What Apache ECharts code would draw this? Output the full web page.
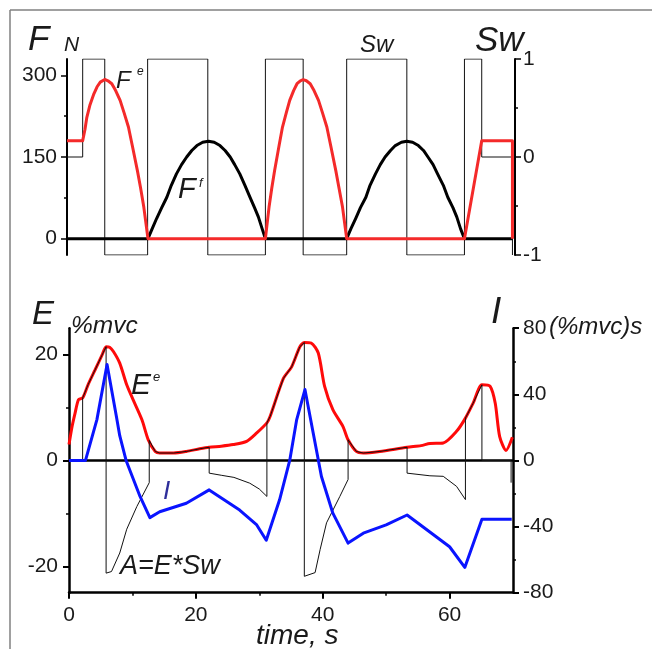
<!DOCTYPE html>
<html><head><meta charset="utf-8">
<script src="https://cdn.jsdelivr.net/npm/echarts@6/dist/echarts.min.js"></script>
<style>html,body{margin:0;padding:0;background:#fff}#c{width:652px;height:649px}</style>
</head><body><div id="c"></div>
<script>
// ---- data (time in s) ----
const forceTicks = [0, 150, 300];
const forceMinorTicks = [75, 225];
const swTicks = [-1, 0, 1];
const emgTicks = [-20, 0, 20];
const emgMinorTicks = [-10, 10];
const timeTicks = [0, 20, 40, 60];
const timeMinorTicks = [10, 30, 50];

// Sw switching signal: [time when new state starts, state]
const swState = [[0,0],[2.45,1],[5.9,-1],[12.6,1],[22,-1],[31,1],[36.9,-1],[43.7,1],[53.1,-1],[62.1,1],[64.8,0],[69.6,-1]];

// Extensor force F^e, N
const feForce = [[0,180],[2.45,180],[2.8,200],[3.1,223],[3.6,246],[4.2,266],[4.7,279],[5.2,287.5],[5.5,291],[5.9,292.5],[6.4,290],[7.0,284.6],[7.6,272],[8.3,254],[8.9,232],[9.6,205],[10.2,171],[11.0,125],[11.5,93],[12.0,58],[12.65,0],
  [31,0],[31.57,58],[32.0,93],[32.44,125],[33.14,171],[33.67,205],[34.28,232],[34.8,254],[35.41,272],[35.94,284.6],[36.46,290],[36.9,292],
  [37.4,290],[38.0,284.6],[38.6,272],[39.3,254],[39.9,232],[40.6,205],[41.2,171],[42.0,125],[42.5,93],[43.05,58],[43.7,0],
  [62.1,0],[64.8,180],[69.6,180],[69.6,0]];

// Flexor force F^f, N
const ffForce = [[0,0],[12.65,0],[13.3,18],[14.0,37],[14.8,57],[15.6,76],[16.3,98],[17.1,119],[17.9,136],[18.7,150],[19.5,162],[20.3,171],[21.2,177],[22.1,179],[23.0,177],[23.9,171],[24.7,162],[25.5,150],[26.2,136],[27.0,119],[27.8,98],[28.6,76],[29.3,57],[29.9,40],[30.5,18],[31,0],
  [43.7,0],[44.35,18],[45.1,37],[45.85,57],[46.7,76],[47.35,98],[48.2,119],[48.95,136],[49.7,150],[50.55,162],[51.3,171],[52.25,177],[53.1,179],[54.0,177],[54.9,171],[55.7,162],[56.4,150],[57.2,136],[57.9,119],[58.8,98],[59.5,76],[60.3,57],[60.9,40],[61.5,18],[62.1,0],[69.6,0]];

// Extensor EMG E^e, %mvc
const eeEmg = [[0,3],[0.5,6.5],[0.95,8.9],[1.5,11.5],[2.15,11.8],[3.0,14.3],[4.1,17.1],[5.2,19.9],[5.85,21.5],[6.4,21.4],[7.0,20.6],[8.0,18.4],[9.1,14.3],[10.1,11.5],[11.5,7.7],[12.5,3.9],[13.6,1.7],[14.3,1.4],[16.5,1.4],[18.5,1.7],[20.6,2.2],[22.1,2.5],[24,2.7],[25.9,3.0],[28,3.6],[29.6,5.2],[31.2,7.1],[31.7,8.3],[33.8,15.5],[35.1,17.7],[36.4,21.5],[37.1,22.3],[38.2,22.2],[39.3,20.3],[40.3,14],[41.6,9.6],[43.2,6.4],[44,3.9],[45.3,1.7],[46.4,1.4],[49,1.7],[53.3,2.5],[55.5,2.8],[56.9,3.2],[59,3.3],[61.1,5.5],[62.5,8.0],[63.7,10.8],[65.1,14.3],[66.4,14],[67.2,10.8],[67.9,4.5],[68.9,1.9],[69.9,4.4]];

// A = E*Sw, %mvc
const aSigned = [[0,0],[2.15,0],[2.15,11.8],[3.0,14.3],[4.1,17.1],[5.2,19.9],[5.85,21.5],[5.85,-21.3],[6.7,-21],[8.0,-17.5],[9.1,-13],[10.7,-8.7],[12.65,-4.2],[12.65,3.8],[13.6,1.7],[14.3,1.4],[16.5,1.4],[18.5,1.7],[20.6,2.2],[22.1,2.5],[22.1,-2.4],[24,-2.8],[26,-3.2],[28.5,-4.3],[30,-5.4],[31.2,-6.8],[31.2,7.1],[31.7,8.3],[33.8,15.5],[35.1,17.7],[36.4,21.5],[37.1,22.3],[37.1,-21.9],[38.8,-21.2],[39.6,-16.8],[40.6,-11.8],[42.7,-6.8],[44,-3.6],[44,3.9],[45.3,1.7],[46.4,1.4],[49,1.7],[53.3,2.5],[53.3,-2.4],[56.9,-2.9],[59,-3.0],[61.1,-4.9],[62.5,-7.4],[62.5,8.0],[63.7,10.8],[65.1,14.3],[65.1,0],[69.7,0],[69.7,-4.2]];

// Integral I, (%mvc)s
const iIntegral = [[0,0],[2.6,0],[4.4,24.7],[6.0,58],[7.5,26],[8.0,15],[9.0,0],[11.2,-21.8],[12.75,-34.6],[14.3,-31],[18.5,-25.9],[22.1,-17.8],[26.9,-30],[29.6,-39],[31.1,-48.3],[33.2,-23.8],[34.8,0],[35.9,24.7],[37.2,42.9],[38.5,16.6],[39.8,-9.7],[41.6,-31.9],[44.0,-50],[46.4,-44],[50,-39],[53.3,-33],[60,-52.2],[62.4,-64.7],[65.1,-35.6],[69.8,-35.6]];

const FONT = '"Liberation Sans", Arial, sans-serif';
const lbl = {fontFamily: FONT, fontSize: 21, color: '#1a1a1a'};
const axLine = w => ({show: true, onZero: false, lineStyle: {color: '#000', width: w}});

function minorAxis(base, values, pos) {
  return Object.assign({}, base, {
    position: pos,
    axisLine: {show: false, onZero: false},
    axisLabel: {show: false},
    axisTick: {show: true, inside: false, length: 3, customValues: values, lineStyle: {color: '#000', width: 1.5}},
    splitLine: {show: false}
  });
}

const chart = echarts.init(document.getElementById('c'), null, {renderer: 'canvas'});

function txt(x, y, s, size, opts) {
  opts = opts || {};
  return {type: 'text', x: x, y: y, silent: true, z: 100,
    style: {text: s, font: (opts.upright ? '' : 'italic ') + size + 'px ' + FONT, fill: opts.color || '#1a1a1a',
      align: 'left', verticalAlign: 'middle'}};
}

const option = {
  animation: false,
  backgroundColor: '#fff',
  grid: [
    {left: 67, top: 59, width: 448, height: 196},
    {left: 69, top: 328.2, width: 444, height: 264.5}
  ],
  xAxis: [
    {type: 'value', gridIndex: 0, min: 0, max: 70, show: false},
    {type: 'value', gridIndex: 1, min: 0, max: 70, position: 'bottom',
      axisLine: axLine(2.5),
      axisTick: {show: true, length: 6, customValues: timeTicks, lineStyle: {color: '#000', width: 2}},
      axisLabel: Object.assign({customValues: timeTicks, margin: 12}, lbl),
      splitLine: {show: false}},
    minorAxis({type: 'value', gridIndex: 1, min: 0, max: 70}, timeMinorTicks, 'bottom')
  ],
  yAxis: [
    {type: 'value', gridIndex: 0, min: -30, max: 330, position: 'left',
      axisLine: axLine(2),
      axisTick: {show: true, length: 6, customValues: forceTicks, lineStyle: {color: '#000', width: 1.5}},
      axisLabel: Object.assign({customValues: forceTicks, margin: 10}, lbl),
      splitLine: {show: false}},
    {type: 'value', gridIndex: 0, min: -1, max: 1, interval: 1, position: 'right',
      axisLine: axLine(2),
      axisTick: {show: true, length: 6, lineStyle: {color: '#000', width: 1.5}},
      minorTick: {show: true, splitNumber: 2, length: 3, lineStyle: {color: '#000', width: 1.5}},
      axisLabel: Object.assign({margin: 8}, lbl),
      splitLine: {show: false}},
    minorAxis({type: 'value', gridIndex: 0, min: -30, max: 330}, forceMinorTicks, 'left'),
    {type: 'value', gridIndex: 1, min: -25, max: 25, position: 'left',
      axisLine: axLine(2.5),
      axisTick: {show: true, length: 6, customValues: emgTicks, lineStyle: {color: '#000', width: 2}},
      axisLabel: Object.assign({customValues: emgTicks, margin: 11}, lbl),
      splitLine: {show: false}},
    {type: 'value', gridIndex: 1, min: -80, max: 80, interval: 40, position: 'right',
      axisLine: axLine(2.5),
      axisTick: {show: true, length: 6, lineStyle: {color: '#000', width: 2}},
      minorTick: {show: true, splitNumber: 2, length: 3, lineStyle: {color: '#000', width: 1.5}},
      axisLabel: Object.assign({margin: 10}, lbl),
      splitLine: {show: false}},
    minorAxis({type: 'value', gridIndex: 1, min: -25, max: 25}, emgMinorTicks, 'left')
  ],
  series: [
    {name: 'Sw', type: 'line', xAxisIndex: 0, yAxisIndex: 1, data: swState, step: 'end',
      showSymbol: false, lineStyle: {color: '#111', width: 1}, z: 2},
    {name: 'Ff', type: 'line', xAxisIndex: 0, yAxisIndex: 0, data: ffForce,
      showSymbol: false, lineStyle: {color: '#000', width: 3, join: 'round'}, z: 3},
    {name: 'Fe', type: 'line', xAxisIndex: 0, yAxisIndex: 0, data: feForce,
      showSymbol: false, lineStyle: {color: '#f42a2a', width: 3, join: 'round'}, z: 4},
    {name: 'Ee', type: 'line', xAxisIndex: 1, yAxisIndex: 3, data: eeEmg, smooth: 0.25,
      showSymbol: false, lineStyle: {color: '#ff0a0a', width: 3}, z: 3,
      markLine: {silent: true, symbol: ['none', 'none'], label: {show: false},
        lineStyle: {color: '#000', width: 2.5, type: 'solid'}, data: [{yAxis: 0}]}},
    {name: 'A', type: 'line', xAxisIndex: 1, yAxisIndex: 3, data: aSigned,
      showSymbol: false, lineStyle: {color: '#111', width: 1}, z: 5},
    {name: 'I', type: 'line', xAxisIndex: 1, yAxisIndex: 4, data: iIntegral,
      showSymbol: false, lineStyle: {color: '#0a14ff', width: 3, join: 'round'}, z: 6}
  ],
  graphic: [
    {type: 'line', shape: {x1: 10, y1: 10, x2: 652, y2: 10}, style: {stroke: '#808080', lineWidth: 1.5}, silent: true},
    {type: 'line', shape: {x1: 10, y1: 10, x2: 10, y2: 649}, style: {stroke: '#808080', lineWidth: 1.5}, silent: true},
    txt(28, 40, 'F', 35),
    txt(64, 45, 'N', 21),
    txt(116, 81, 'F', 24),
    txt(137, 72, 'e', 12),
    txt(178, 190, 'F', 29),
    txt(199, 183, 'f', 13),
    txt(360, 45, 'Sw', 24),
    txt(475, 41, 'Sw', 35),
    txt(32, 315, 'E', 33),
    txt(71, 326, '%mvc', 24.5),
    txt(131, 386, 'E', 30),
    txt(153, 377, 'e', 13),
    txt(163, 492, 'I', 26, {color: '#2e2e9a'}),
    txt(120, 566, 'A=E*Sw', 27),
    txt(491, 313, 'I', 37),
    txt(549, 327, '(%mvc)s', 24),
    txt(256, 636, 'time, s', 28)
  ]
};
chart.setOption(option);
</script>
</body></html>
